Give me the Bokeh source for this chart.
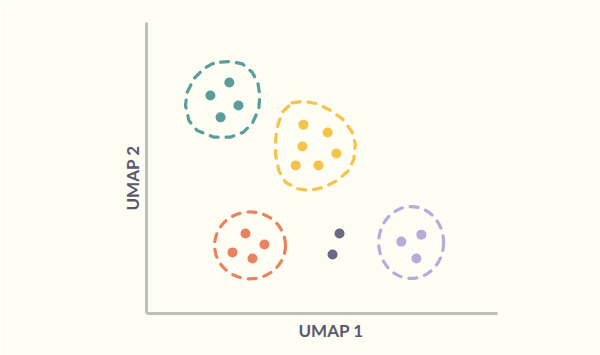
from bokeh.plotting import figure
from bokeh.models import Range1d, Title
from bokeh.embed import file_html
from bokeh.resources import INLINE

# cluster points (UMAP coordinates)
teal_x = [1.82, 2.36, 2.62, 2.11]
teal_y = [7.49, 7.94, 7.15, 6.74]
yellow_x = [4.47, 5.16, 4.44, 5.41, 4.25, 4.90]
yellow_y = [6.49, 6.22, 5.74, 5.50, 5.09, 5.09]
orange_x = [2.82, 3.36, 2.45, 3.02]
orange_y = [2.75, 2.37, 2.10, 1.89]
dark_x = [5.50, 5.30]
dark_y = [2.75, 2.03]
purple_x = [7.83, 7.26, 7.69]
purple_y = [2.71, 2.47, 1.89]

# cluster outlines
teal_hull_x = [2.11, 2.39, 2.73, 3.01, 3.17, 3.23, 3.20, 3.01, 2.76, 2.39, 1.92, 1.44, 1.21, 1.11, 1.16, 1.35, 1.63, 1.87]
teal_hull_y = [8.64, 8.66, 8.58, 8.29, 7.95, 7.49, 7.03, 6.52, 6.23, 6.06, 6.06, 6.29, 6.63, 7.15, 7.60, 8.07, 8.41, 8.58]
yellow_hull_x = [4.15, 4.48, 4.86, 5.24, 5.58, 5.86, 5.95, 5.91, 5.76, 5.43, 5.05, 4.67, 4.29, 3.96, 3.77, 3.68, 3.68, 3.74, 3.87]
yellow_hull_y = [7.24, 7.29, 7.21, 6.98, 6.69, 6.23, 5.83, 5.32, 4.91, 4.57, 4.34, 4.23, 4.29, 4.51, 4.91, 5.43, 6.00, 6.46, 6.92]
orange_hull = dict(x=2.95, y=2.34, w=2.02, h=2.30)
purple_hull = dict(x=7.54, y=2.44, w=1.85, h=2.47)

x_label = "UMAP 1"
y_label = "UMAP 2"

TEAL = "#5a9d9a"
YELLOW = "#f5c34a"
ORANGE = "#e9835f"
DARK = "#6a6883"
PURPLE = "#bba9d9"
BG = "#fdfdf4"
AXIS = "#bcc1b6"
TXT = "#5a5a6c"

p = figure(width=600, height=355, output_backend="svg", toolbar_location=None,
           x_range=Range1d(0, 10), y_range=Range1d(0, 10),
           min_border_left=146, min_border_right=103, min_border_top=22, min_border_bottom=42)
p.background_fill_color = BG
p.border_fill_color = BG
p.outline_line_color = None
p.grid.visible = False

for ax in (p.xaxis[0], p.yaxis[0]):
    ax.axis_line_color = AXIS
    ax.axis_line_width = 3
    ax.major_tick_line_color = None
    ax.minor_tick_line_color = None
    ax.major_tick_out = 0
    ax.major_tick_in = 0
    ax.minor_tick_out = 0
    ax.minor_tick_in = 0
    ax.major_label_text_font_size = "0px"
    ax.major_label_text_color = None
    ax.major_label_standoff = 0

dash = dict(fill_color=None, line_width=3.2, line_dash="8 8", line_cap="round")
p.patch(teal_hull_x, teal_hull_y, line_color=TEAL, **dash)
p.patch(yellow_hull_x, yellow_hull_y, line_color=YELLOW, **dash)
p.ellipse(x=[orange_hull["x"]], y=[orange_hull["y"]], width=[orange_hull["w"]], height=[orange_hull["h"]],
          line_color=ORANGE, **dash)
p.ellipse(x=[purple_hull["x"]], y=[purple_hull["y"]], width=[purple_hull["w"]], height=[purple_hull["h"]],
          line_color=PURPLE, **dash)

for xs, ys, c in ((teal_x, teal_y, TEAL), (yellow_x, yellow_y, YELLOW), (orange_x, orange_y, ORANGE),
                  (dark_x, dark_y, DARK), (purple_x, purple_y, PURPLE)):
    p.scatter(xs, ys, size=10, fill_color=c, line_color=None)

p.add_layout(Title(text=x_label, align="left", offset=152, standoff=8,
                   text_font="Lato", text_font_style="bold", text_font_size="17px",
                   text_color=TXT), "below")
p.add_layout(Title(text=y_label, align="left", offset=103, standoff=8,
                   text_font="Lato", text_font_style="bold", text_font_size="17px",
                   text_color=TXT), "left")

open("out.html", "w").write(file_html(p, INLINE))
